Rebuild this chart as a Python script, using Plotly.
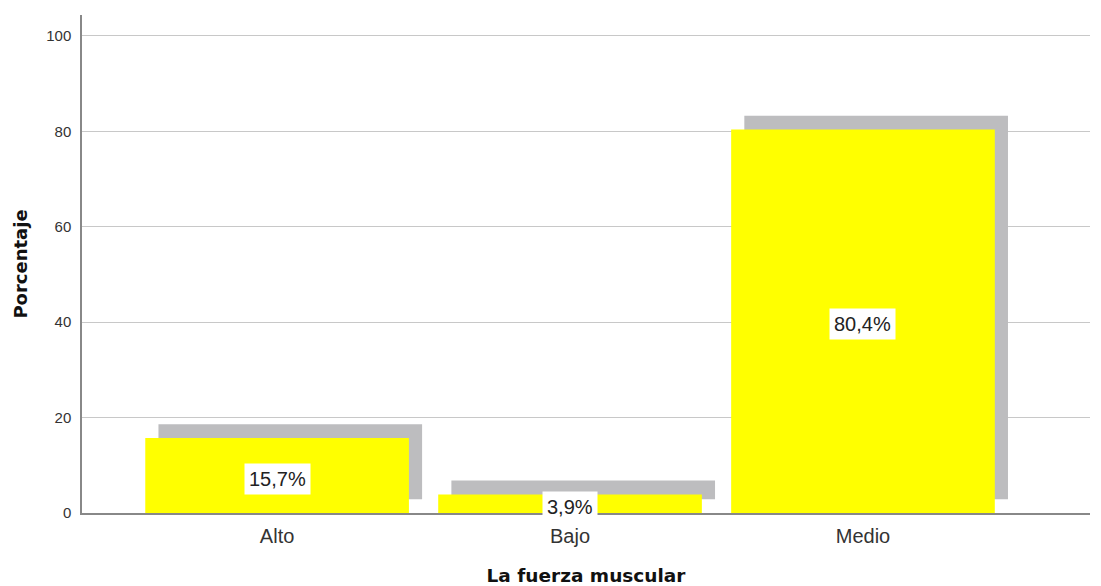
import plotly.graph_objects as go

categories = ["Alto", "Bajo", "Medio"]
values = [15.7, 3.9, 80.4]
labels = ["15,7%", "3,9%", "80,4%"]
y_ticks = [0, 20, 40, 60, 80, 100]

shadow_base = 2.9
shadow_dx = 0.045
bar_width = 0.9

xpos = list(range(len(categories)))

fig = go.Figure()
fig.add_trace(go.Bar(
    x=[p + shadow_dx for p in xpos], y=values, base=[shadow_base] * len(values),
    width=bar_width, marker=dict(color="#bdbdbf", line=dict(width=0)),
    hoverinfo="skip", showlegend=False))
fig.add_trace(go.Bar(
    x=xpos, y=values, width=bar_width,
    marker=dict(color="#ffff00", line=dict(width=0)),
    showlegend=False))

for p, v, t in zip(xpos, values, labels):
    fig.add_annotation(x=p, y=v / 2, text=t, showarrow=False, yshift=-3,
                       bgcolor="white", borderpad=4,
                       font=dict(family="Liberation Sans, Arial", size=20, color="#222"))

fig.update_layout(
    barmode="overlay",
    width=1101, height=586,
    margin=dict(l=82, r=11, t=15, b=73, autoexpand=False),
    plot_bgcolor="white", paper_bgcolor="white",
    font=dict(family="Liberation Sans, Arial", color="#222"),
    xaxis=dict(
        range=[-0.666, 2.775], tickvals=xpos, ticktext=categories,
        automargin=False,
        showgrid=False, zeroline=False, showline=True, linecolor="#888",
        linewidth=1.5, ticks="", tickfont=dict(size=20, color="#333"),
        ticklabelstandoff=4,
        title=dict(text="<b>La fuerza muscular</b>",
                   font=dict(family="DejaVu Sans", size=18.5, color="#111"), standoff=28),
    ),
    yaxis=dict(
        range=[0, 104.4], tickvals=y_ticks, showgrid=True, gridcolor="#c8c8c8",
        automargin=False,
        gridwidth=1.3, zeroline=False, showline=True, linecolor="#888", linewidth=1.5,
        ticks="", tickfont=dict(size=15, color="#333"), ticklabelstandoff=6,
        title=dict(text="<b>Porcentaje</b>",
                   font=dict(family="DejaVu Sans", size=18, color="#111"), standoff=14),
    ),
)

fig.write_html("out.html", config={"displayModeBar": False},
               post_script="document.body.style.margin='0';")
